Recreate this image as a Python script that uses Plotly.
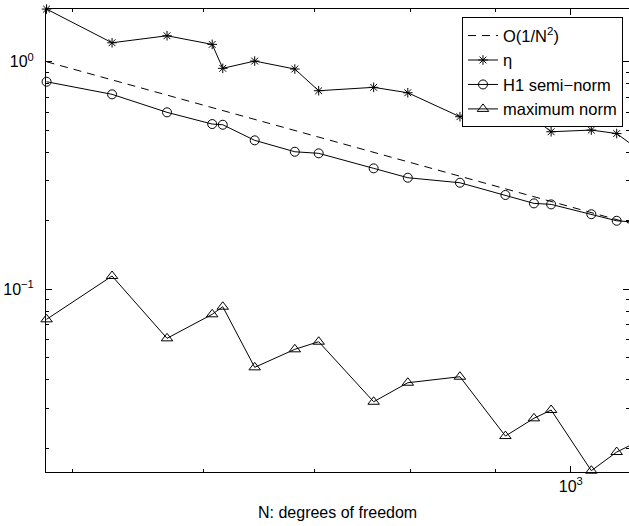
import plotly.graph_objects as go

# Degrees of freedom N
N = [482, 528, 570, 607, 616, 644, 681, 704, 760, 797, 857, 913, 950, 973, 1029, 1066, 1086]

# Error estimator eta
eta = [1.704, 1.212, 1.301, 1.192, 0.9355, 1.007, 0.9289, 0.7459, 0.7719, 0.7307,
       0.5734, 0.5934, 0.5642, 0.4925, 0.5010, 0.4836, 0.4380]

# H1 semi-norm error
h1 = [0.8168, 0.7191, 0.5994, 0.5324, 0.5286, 0.4515, 0.4023, 0.3959, 0.3401, 0.3093,
      0.2940, 0.2597, 0.2386, 0.2362, 0.2138, 0.2001, 0.1981]

# maximum norm error
maxn = [0.07382, 0.1144, 0.06090, 0.07766, 0.08386, 0.04542, 0.05450, 0.05886, 0.03206,
        0.03887, 0.04130, 0.02266, 0.02711, 0.02949, 0.01596, 0.01928, 0.02060]

# reference slope line O(1/N^2)
ref_x = [482, 1086]
ref_y = [1.0, 0.195]

FONT = "Arial, Liberation Sans, Helvetica, sans-serif"

fig = go.Figure()
fig.add_trace(go.Scatter(x=ref_x, y=ref_y, mode="lines", name="O(1/N<sup>2</sup>)",
                         line=dict(color="black", width=1, dash="8px,6px")))
fig.add_trace(go.Scatter(x=N, y=eta, mode="lines+markers", name="η", cliponaxis=False,
                         line=dict(color="black", width=1),
                         marker=dict(symbol="asterisk-open", size=8, color="black",
                                     line=dict(width=1, color="black"))))
fig.add_trace(go.Scatter(x=N, y=h1, mode="lines+markers", name="H1 semi−norm", cliponaxis=False,
                         line=dict(color="black", width=1),
                         marker=dict(symbol="circle-open", size=9, color="black",
                                     line=dict(width=1, color="black"))))
fig.add_trace(go.Scatter(x=N, y=maxn, mode="lines+markers", name="maximum norm", cliponaxis=False,
                         line=dict(color="black", width=1),
                         marker=dict(symbol="triangle-up-open", size=10, color="black",
                                     line=dict(width=1, color="black"))))

fig.update_layout(
    width=629, height=526,
    margin=dict(l=46, r=0, t=9, b=54),
    paper_bgcolor="white", plot_bgcolor="white",
    font=dict(family=FONT, size=16, color="black"),
    showlegend=True,
    legend=dict(x=0.9897, y=0.982, xanchor="right", yanchor="top",
                bgcolor="white", bordercolor="black", borderwidth=1,
                font=dict(family=FONT, size=16.5, color="black"),
                tracegroupgap=0),
    xaxis=dict(type="log", range=[2.6827, 3.0352],
               tickmode="array", tickvals=[1000], ticktext=["10<sup>3</sup>"],
               ticks="inside", ticklen=6, tickcolor="black", tickwidth=1,
               showline=True, linecolor="black", linewidth=1, mirror="ticks",
               showgrid=False, zeroline=False,
               minor=dict(tickmode="array", tickvals=[500, 600, 700, 800, 900],
                          ticks="inside", ticklen=3, tickcolor="black", showgrid=False)),
    yaxis=dict(type="log", range=[-1.8027, 0.2318],
               tickmode="array", tickvals=[0.1, 1], ticktext=["10<sup>−1</sup>", "10<sup>0</sup>"],
               ticks="inside", ticklen=6, tickcolor="black", tickwidth=1,
               ticklabelstandoff=8,
               showline=True, linecolor="black", linewidth=1, mirror="ticks",
               showgrid=False, zeroline=False,
               minor=dict(tickmode="array",
                          tickvals=[0.02, 0.03, 0.04, 0.05, 0.06, 0.07, 0.08, 0.09,
                                    0.2, 0.3, 0.4, 0.5, 0.6, 0.7, 0.8, 0.9],
                          ticks="inside", ticklen=3, tickcolor="black", showgrid=False)),
    annotations=[dict(text="N: degrees of freedom", xref="paper", yref="paper",
                      x=0.5, y=-0.0875, xanchor="center", yanchor="middle",
                      showarrow=False, font=dict(family=FONT, size=16, color="black"))],
)

fig.write_html("out.html")
